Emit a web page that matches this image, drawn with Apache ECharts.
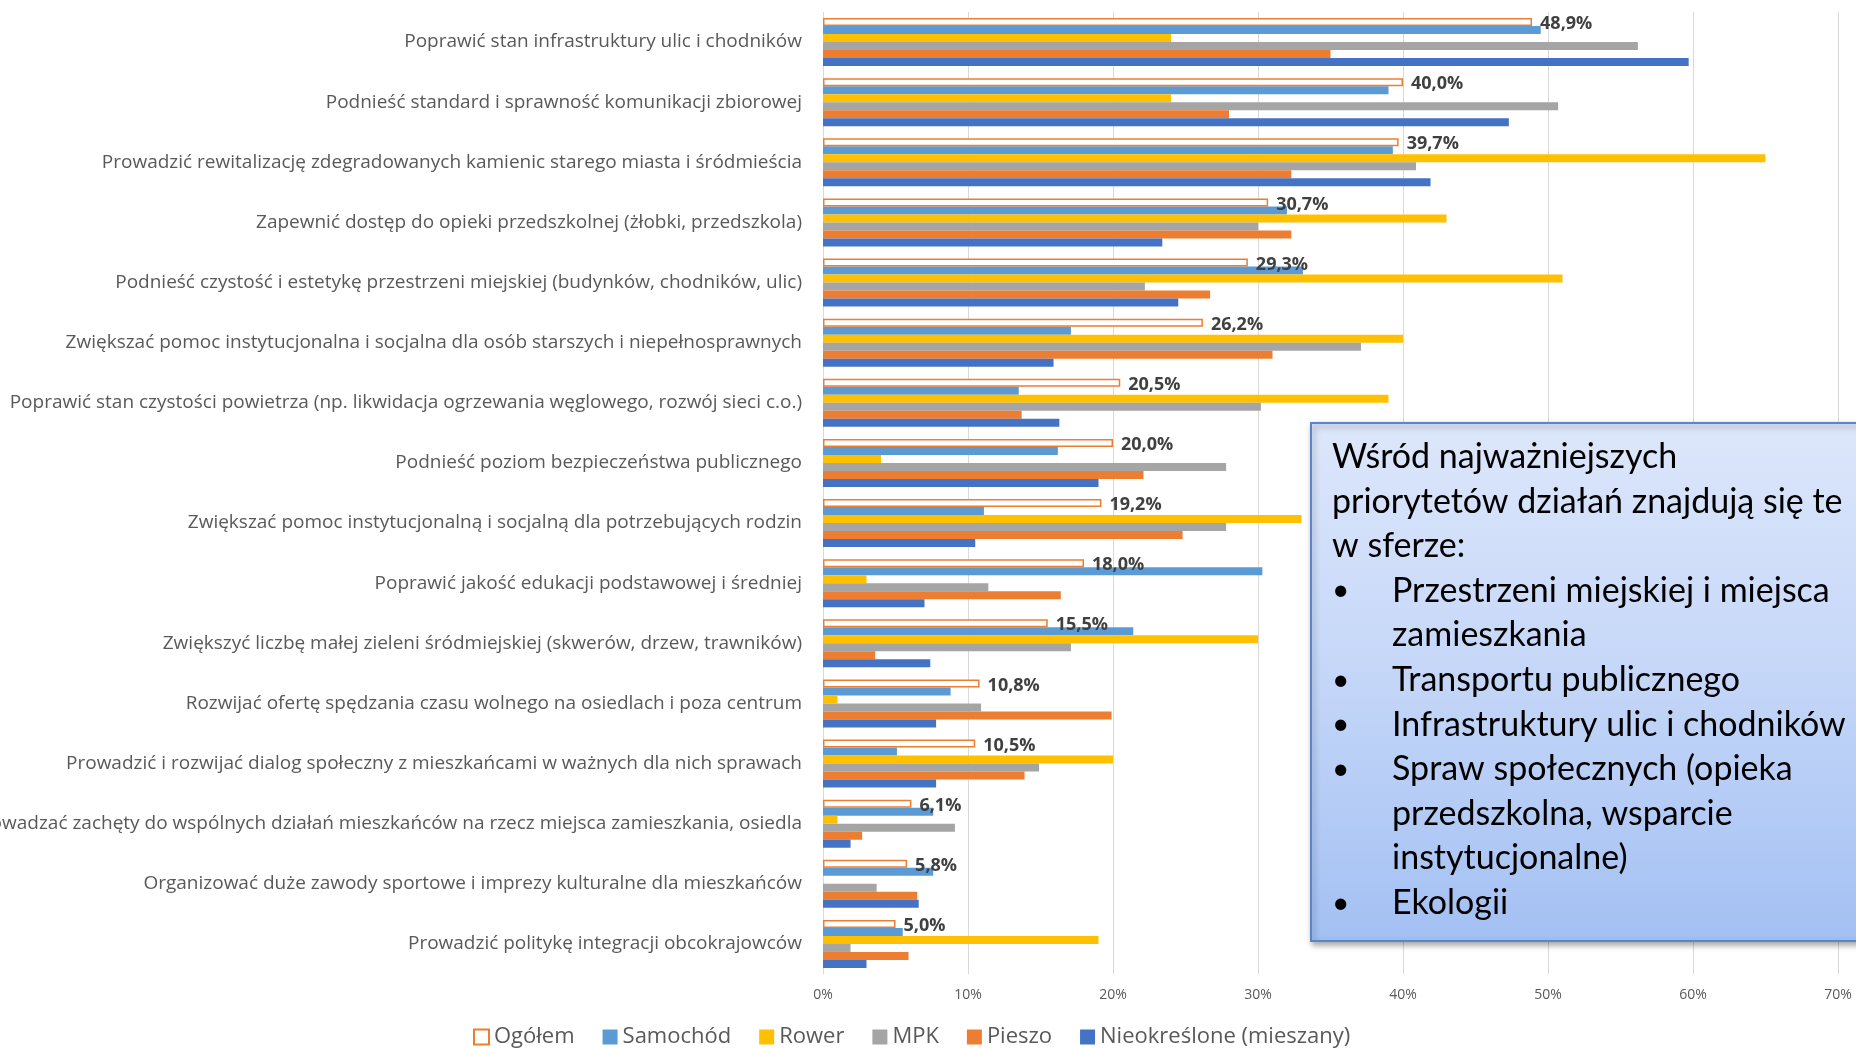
<!DOCTYPE html>
<html>
<head>
<meta charset="utf-8">
<script src="https://cdn.jsdelivr.net/npm/echarts@6/dist/echarts.min.js"></script>
<style>
  html, body { margin: 0; padding: 0; background: #ffffff; }
  #chart { width: 1856px; height: 1048px; }
</style>
</head>
<body>
<div id="chart"></div>
<script>
// Priorytety działań wg sposobu przemieszczania się (% wskazań)
const categories = [
  'Poprawić stan infrastruktury ulic i chodników',
  'Podnieść standard i sprawność komunikacji zbiorowej',
  'Prowadzić rewitalizację zdegradowanych kamienic starego miasta i śródmieścia',
  'Zapewnić dostęp do opieki przedszkolnej (żłobki, przedszkola)',
  'Podnieść czystość i estetykę przestrzeni miejskiej (budynków, chodników, ulic)',
  'Zwiększać pomoc instytucjonalna i socjalna dla osób starszych i niepełnosprawnych',
  'Poprawić stan czystości powietrza (np. likwidacja ogrzewania węglowego, rozwój sieci c.o.)',
  'Podnieść poziom bezpieczeństwa publicznego',
  'Zwiększać pomoc instytucjonalną i socjalną dla potrzebujących rodzin',
  'Poprawić jakość edukacji podstawowej i średniej',
  'Zwiększyć liczbę małej zieleni śródmiejskiej (skwerów, drzew, trawników)',
  'Rozwijać ofertę spędzania czasu wolnego na osiedlach i poza centrum',
  'Prowadzić i rozwijać dialog społeczny z mieszkańcami w ważnych dla nich sprawach',
  'Wprowadzać zachęty do wspólnych działań mieszkańców na rzecz miejsca zamieszkania, osiedla',
  'Organizować duże zawody sportowe i imprezy kulturalne dla mieszkańców',
  'Prowadzić politykę integracji obcokrajowców'
];

const seriesNames = ['Ogółem', 'Samochód', 'Rower', 'MPK', 'Pieszo', 'Nieokreślone (mieszany)'];

const ogolem   = [48.9, 40.0, 39.7, 30.7, 29.3, 26.2, 20.5, 20.0, 19.2, 18.0, 15.5, 10.8, 10.5, 6.1, 5.8, 5.0];
const samochod = [49.5, 39.0, 39.3, 32.0, 33.1, 17.1, 13.5, 16.2, 11.1, 30.3, 21.4, 8.8, 5.1, 7.6, 7.6, 5.5];
const rower    = [24.0, 24.0, 65.0, 43.0, 51.0, 40.0, 39.0, 4.0, 33.0, 3.0, 30.0, 1.0, 20.0, 1.0, 0, 19.0];
const mpk      = [56.2, 50.7, 40.9, 30.0, 22.2, 37.1, 30.2, 27.8, 27.8, 11.4, 17.1, 10.9, 14.9, 9.1, 3.7, 1.9];
const pieszo   = [35.0, 28.0, 32.3, 32.3, 26.7, 31.0, 13.7, 22.1, 24.8, 16.4, 3.6, 19.9, 13.9, 2.7, 6.5, 5.9];
const nieokr   = [59.7, 47.3, 41.9, 23.4, 24.5, 15.9, 16.3, 19.0, 10.5, 7.0, 7.4, 7.8, 7.8, 1.9, 6.6, 3.0];

const xTicks = { min: 0, max: 70, interval: 10 };

// Tekst ramki z komentarzem
const noteLines = [
  { bullet: false, text: 'Wśród najważniejszych' },
  { bullet: false, text: 'priorytetów działań znajdują się te' },
  { bullet: false, text: 'w sferze:' },
  { bullet: true,  text: 'Przestrzeni miejskiej i miejsca' },
  { bullet: null,  text: 'zamieszkania' },
  { bullet: true,  text: 'Transportu publicznego' },
  { bullet: true,  text: 'Infrastruktury ulic i chodników' },
  { bullet: true,  text: 'Spraw społecznych (opieka' },
  { bullet: null,  text: 'przedszkolna, wsparcie' },
  { bullet: null,  text: 'instytucjonalne)' },
  { bullet: true,  text: 'Ekologii' }
];

const LABEL_FONT = '"Open Sans", sans-serif';
const NOTE_FONT = 'Lato, "Open Sans", sans-serif';

const colors = ['#ffffff', '#5B9BD5', '#FFC000', '#A5A5A5', '#ED7D31', '#4472C4'];
const values = [ogolem, samochod, rower, mpk, pieszo, nieokr];

const series = values.map((vals, i) => {
  const s = {
    name: seriesNames[i],
    type: 'bar',
    data: vals,
    barGap: '0%',
    barCategoryGap: '20%',
    itemStyle: { color: colors[i] },
    emphasis: { disabled: true }
  };
  if (i === 0) {
    s.itemStyle = { color: '#ffffff', borderColor: '#ED7D31', borderWidth: 1.5 };
    s.z = 3;
    s.label = {
      show: true,
      position: 'right',
      distance: 8,
      offset: [0, 2],
      fontFamily: LABEL_FONT,
      fontWeight: 'bold',
      fontSize: 18,
      color: '#404040',
      formatter: p => p.value.toFixed(1).replace('.', ',') + '%'
    };
  }
  return s;
});

// Ramka z komentarzem
const boxX = 1311, boxY = 423, boxW = 620, boxH = 518;
const lineH = 44.6, firstLine = 457;
const noteElements = [];
noteLines.forEach((ln, i) => {
  const y = firstLine + i * lineH;
  if (ln.bullet) {
    noteElements.push({
      type: 'text', x: 1332, y: y, z: 101,
      style: { text: '•', font: '30px ' + NOTE_FONT, fill: '#000', verticalAlign: 'middle' }
    });
  }
  noteElements.push({
    type: 'text', x: ln.bullet === false ? 1332 : 1392, y: y, z: 101,
    style: { text: ln.text, font: '34px ' + NOTE_FONT, fill: '#000', verticalAlign: 'middle' }
  });
});

const chart = echarts.init(document.getElementById('chart'), null, { renderer: 'canvas' });
chart.setOption({
  animation: false,
  backgroundColor: '#ffffff',
  color: colors,
  grid: { left: 823, right: 18, top: 12, bottom: 74, containLabel: false, outerBoundsMode: 'none' },
  xAxis: {
    type: 'value',
    min: xTicks.min, max: xTicks.max, interval: xTicks.interval,
    axisLine: { show: false },
    axisTick: { show: false },
    splitLine: { show: true, lineStyle: { color: '#D9D9D9', width: 1 } },
    axisLabel: {
      formatter: '{value}%',
      color: '#595959',
      fontFamily: LABEL_FONT,
      fontSize: 14,
      margin: 14
    }
  },
  yAxis: {
    type: 'category',
    data: categories,
    inverse: true,
    axisLine: { show: false },
    axisTick: { show: false },
    axisLabel: {
      color: '#595959',
      fontFamily: LABEL_FONT,
      fontSize: 19,
      margin: 21
    }
  },
  legend: {
    top: 1026,
    left: 473,
    padding: 0,
    itemWidth: 15,
    itemHeight: 15,
    itemGap: 28,
    icon: 'rect',
    textStyle: { color: '#595959', fontFamily: LABEL_FONT, fontSize: 22 },
    data: seriesNames.map((n, i) => i === 0
      ? { name: n, itemStyle: { color: '#ffffff', borderColor: '#ED7D31', borderWidth: 2 } }
      : { name: n })
  },
  series: series,
  graphic: [
    {
      type: 'rect',
      z: 100,
      shape: { x: boxX, y: boxY, width: boxW, height: boxH },
      style: {
        fill: new echarts.graphic.LinearGradient(0, 0, 0, 1, [
          { offset: 0, color: '#DDE7FB' },
          { offset: 0.5, color: '#C4D6F8' },
          { offset: 1, color: '#A3C0F3' }
        ]),
        stroke: '#5B85C9',
        lineWidth: 2,
        shadowColor: 'rgba(0,0,0,0.35)',
        shadowBlur: 6,
        shadowOffsetX: 2,
        shadowOffsetY: 3
      }
    }
  ].concat(noteElements)
});
</script>
</body>
</html>
